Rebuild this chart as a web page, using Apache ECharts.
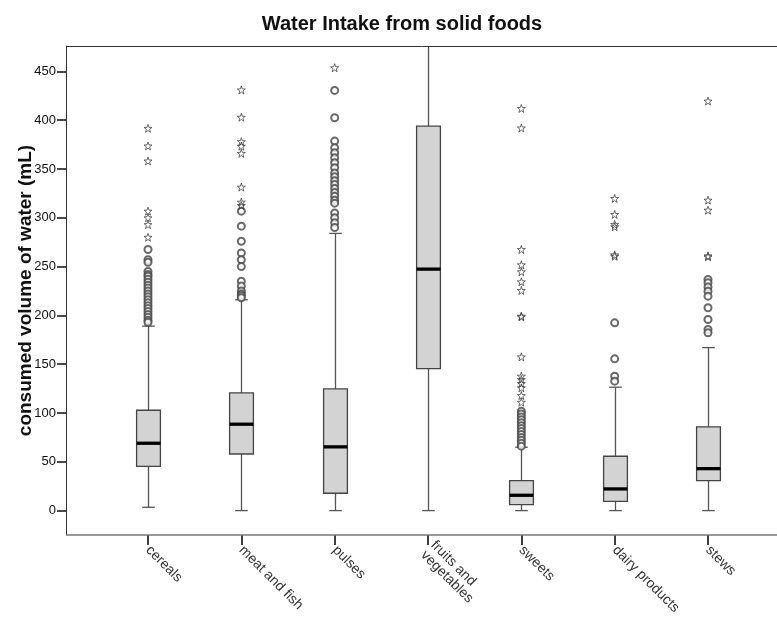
<!DOCTYPE html>
<html>
<head>
<meta charset="utf-8">
<script src="https://cdn.jsdelivr.net/npm/echarts@6/dist/echarts.min.js"></script>
<style>
html,body{margin:0;padding:0;background:#fff;}
#chart{width:777px;height:617px;}
</style>
</head>
<body>
<div id="chart"></div>
<script>
// ---- data ----
const categories = ['cereals', 'meat and fish', 'pulses', 'fruits and\nvegetables', 'sweets', 'dairy products', 'stews'];
const whiskerLow  = [3.4, 0, 0, 0, 0, 0, 0];
const quartile1   = [45.4, 58.0, 17.8, 145.5, 6.1, 9.5, 30.7];
const medians     = [69.0, 88.5, 65.3, 247.4, 15.7, 22.2, 43.0];
const quartile3   = [102.8, 120.6, 124.7, 393.9, 30.7, 55.7, 85.8];
const whiskerHigh = [189.0, 216.0, 284.0, 480.0, 64.9, 126.4, 167.0];

const circleOutliers = [
  [267.5, 257, 254.5, 245, 242, 240, 237, 234, 231, 228, 225, 222, 219, 216, 213, 210, 207, 204, 201, 198, 195, 193],
  [306.8, 291.4, 276, 264, 257, 250, 235, 230, 225, 222, 220, 218],
  [430.5, 402.5, 378.6, 371.8, 366.6, 361.5, 356.4, 351.3, 346, 342, 338, 334, 330, 326, 322, 318, 315, 305, 300, 295, 290],
  [],
  [101.8, 99, 96, 93, 90, 87, 84, 81, 78, 75, 72, 69, 66],
  [192.4, 155.5, 137.7, 132.6],
  [236.8, 233.4, 229, 224.8, 219.7, 207.8, 195.8, 185.5, 182.1]
];
const starOutliers = [
  [391.6, 373.6, 358.2, 306.8, 300, 293, 280],
  [431, 403, 378, 373.4, 366, 331.4, 316, 312.6],
  [453.7],
  [],
  [412, 392, 267.5, 251.8, 244.6, 234.4, 225.5, 199.2, 198.5, 157.5, 137.7, 134.3, 130.2, 125.8, 117.9, 111],
  [319.8, 303.4, 293.2, 290.8, 262, 260.5],
  [419.6, 318, 307.8, 261, 260]
];
const yTickValues = [0, 50, 100, 150, 200, 250, 300, 350, 400, 450];

// ---- build series data ----
const boxData = categories.map((c, i) => [i, whiskerLow[i], quartile1[i], medians[i], quartile3[i], whiskerHigh[i]]);
const circleData = [];
circleOutliers.forEach((arr, i) => arr.forEach(v => circleData.push([i, v])));
const starData = [];
starOutliers.forEach((arr, i) => arr.forEach(v => starData.push([i, v])));

const starPath = 'path://M0,-10 L2.35,-3.24 L9.51,-3.09 L3.8,1.24 L5.88,8.09 L0,4 L-5.88,8.09 L-3.8,1.24 L-9.51,-3.09 L-2.35,-3.24 Z';
const FONT = '"Liberation Sans", Arial, sans-serif';

const chart = echarts.init(document.getElementById('chart'), null, {renderer: 'canvas'});

chart.setOption({
  animation: false,
  backgroundColor: '#fff',
  title: {
    text: 'Water Intake from solid foods',
    left: 397, top: 9, textAlign: 'center',
    textStyle: {fontFamily: FONT, fontSize: 20, fontWeight: 'bold', color: '#111'}
  },
  grid: {left: 101.33, right: 22.33, top: 46, bottom: 82, containLabel: false, outerBoundsMode: 'none'},
  xAxis: {
    type: 'category',
    data: categories,
    axisLine: {show: false, onZero: false},
    axisTick: {show: true, alignWithLabel: true, length: 10, lineStyle: {color: '#000', width: 1.5}},
    axisLabel: {interval: 0, rotate: -45, margin: 13, fontFamily: FONT, fontSize: 14, color: '#333', lineHeight: 14},
    splitLine: {show: false}
  },
  yAxis: {
    type: 'value',
    min: -25, max: 476,
    offset: 35.33,
    name: 'consumed volume of water (mL)',
    nameLocation: 'middle',
    nameGap: 31,
    nameMoveOverlap: false,
    nameTextStyle: {fontFamily: FONT, fontSize: 19, fontWeight: 'bold', color: '#111'},
    axisLine: {show: true, lineStyle: {color: '#333', width: 1}},
    axisTick: {show: true, length: 9, customValues: yTickValues, lineStyle: {color: '#111', width: 1.5}},
    axisLabel: {customValues: yTickValues, margin: 10, fontFamily: FONT, fontSize: 13, color: '#111'},
    splitLine: {show: false}
  },
  graphic: [
    {type: 'line', shape: {x1: 66, y1: 46.5, x2: 777, y2: 46.5}, style: {stroke: '#333', lineWidth: 1}, z: 10},
    {type: 'line', shape: {x1: 66, y1: 535, x2: 777, y2: 535}, style: {stroke: '#777', lineWidth: 1.6}, z: 10}
  ],
  series: [
    {
      type: 'custom',
      clip: true,
      data: boxData,
      encode: {x: 0, y: [1, 2, 3, 4, 5]},
      renderItem: function (params, api) {
        const idx = api.value(0);
        const lo = api.coord([idx, api.value(1)]);
        const q1 = api.coord([idx, api.value(2)]);
        const md = api.coord([idx, api.value(3)]);
        const q3 = api.coord([idx, api.value(4)]);
        const hi = api.coord([idx, api.value(5)]);
        const band = api.size([1, 0])[0];
        const bw = band * 0.255;
        const cw = band * 0.135;
        const x = Math.round(lo[0]) + 0.5;
        const wStyle = {stroke: '#555', lineWidth: 1.3};
        return {
          type: 'group',
          children: [
            {type: 'line', shape: {x1: x, y1: hi[1], x2: x, y2: q3[1]}, style: wStyle},
            {type: 'line', shape: {x1: x, y1: q1[1], x2: x, y2: lo[1]}, style: wStyle},
            {type: 'line', shape: {x1: x - cw / 2, y1: hi[1], x2: x + cw / 2, y2: hi[1]}, style: wStyle},
            {type: 'line', shape: {x1: x - cw / 2, y1: lo[1], x2: x + cw / 2, y2: lo[1]}, style: wStyle},
            {type: 'rect', shape: {x: x - bw / 2, y: q3[1], width: bw, height: q1[1] - q3[1]},
              style: {fill: '#d3d3d3', stroke: '#444', lineWidth: 1.3}},
            {type: 'line', shape: {x1: x - bw / 2, y1: md[1], x2: x + bw / 2, y2: md[1]},
              style: {stroke: '#000', lineWidth: 3.3}}
          ]
        };
      },
      z: 2
    },
    {
      type: 'scatter',
      data: circleData,
      symbol: 'emptyCircle',
      symbolSize: 7,
      itemStyle: {color: '#444', borderColor: '#444', borderWidth: 1},
      z: 3
    },
    {
      type: 'scatter',
      data: starData,
      symbol: starPath,
      symbolSize: 8,
      itemStyle: {color: 'rgba(0,0,0,0)', borderColor: '#333', borderWidth: 0.9},
      z: 3
    }
  ]
});
</script>
</body>
</html>
